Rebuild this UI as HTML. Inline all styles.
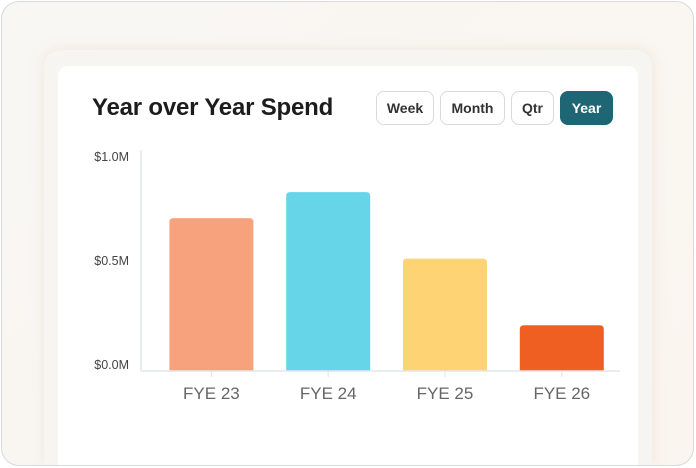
<!DOCTYPE html>
<html><head><meta charset="utf-8"><style>
html,body{margin:0;width:696px;height:468px;overflow:hidden;background:#fff;font-family:"Liberation Sans",sans-serif}
#wrap{position:absolute;left:0;top:0;width:696px;height:468px;overflow:hidden}
#frame{position:absolute;left:1px;top:1px;width:691px;height:463px;border:1.5px solid #d5dadb;border-radius:18px;background:linear-gradient(135deg,#f8f7f4,#fbf5ef);overflow:hidden}
#glass{position:absolute;left:42px;top:48px;width:608px;height:415px;border-radius:16px 16px 0 0;background:#f6f5f2;box-shadow:0 0 12px rgba(230,215,200,.5)}
#card{position:absolute;left:56px;top:64px;width:580px;height:399px;border-radius:10px 10px 0 0;background:#fff}
#title{position:absolute;left:92px;top:94px;font-size:24px;font-weight:bold;color:#1c1c1c;letter-spacing:-.2px}
.btn{position:absolute;top:91px;height:32px;border:1.5px solid #d6dadb;border-radius:8px;background:#fff;font-size:14px;font-weight:bold;color:#333;line-height:32px;text-align:center;box-sizing:content-box}
</style></head><body>
<div id="wrap">
<div id="frame">
<div id="glass"></div>
<div id="card"></div>
</div>
<div id="title">Year over Year Spend</div>
<div class="btn" style="left:376px;width:56px">Week</div>
<div class="btn" style="left:440px;width:63px">Month</div>
<div class="btn" style="left:511px;width:41px">Qtr</div>
<div class="btn" style="left:560px;width:51px;background:#1f6674;border-color:#1f6674;color:#fff">Year</div>
<svg id="chart" width="696" height="468" style="position:absolute;left:0;top:0"></svg>
</div>
<script>
const categories=["FYE 23","FYE 24","FYE 25","FYE 26"];
const values=[0.735,0.86,0.54,0.22];
const colors=["#f7a27d","#66d5e8","#fdd374","#f05f22"];
const tickValues=[0,0.5,1.0];
const tickLabels=["$0.0M","$0.5M","$1.0M"];
const svg=document.getElementById('chart');
const NS='http://www.w3.org/2000/svg';
const y0=371,yScale=208,x0=153,band=116.8,bw=84;
const y=v=>y0-v*yScale;
const xc=i=>x0+band*(i+0.5);
function mk(t,a){const e=document.createElementNS(NS,t);for(const k in a)e.setAttribute(k,a[k]);svg.appendChild(e);return e;}
const ya=mk('line',{x1:141,x2:141,y1:150,y2:y0,stroke:'#e3e7e9','stroke-width':1.5});


tickValues.forEach((v,i)=>{
  const t=mk('text',{x:129,y:y(v)-2,'text-anchor':'end','font-size':12.5,fill:'#444'});
  t.textContent=tickLabels[i];
  
  
});
categories.forEach((c,i)=>{
  const x=xc(i)-bw/2,r=4,top=y(values[i]);
  const p=mk('path',{d:`M${x},${y0}V${top+r}Q${x},${top} ${x+r},${top}H${x+bw-r}Q${x+bw},${top} ${x+bw},${top+r}V${y0}Z`,fill:colors[i]});
  
  
  mk('line',{x1:xc(i),x2:xc(i),y1:y0,y2:y0+6,stroke:'#dfe3e5','stroke-width':1});
  const t=mk('text',{x:xc(i),y:399,'text-anchor':'middle','font-size':17,fill:'#666'});
  t.textContent=c;
  
  
});
const xa=mk('line',{x1:141,x2:620,y1:y0,y2:y0,stroke:'#e3e7e9','stroke-width':1.5});


</script>
</body></html>
